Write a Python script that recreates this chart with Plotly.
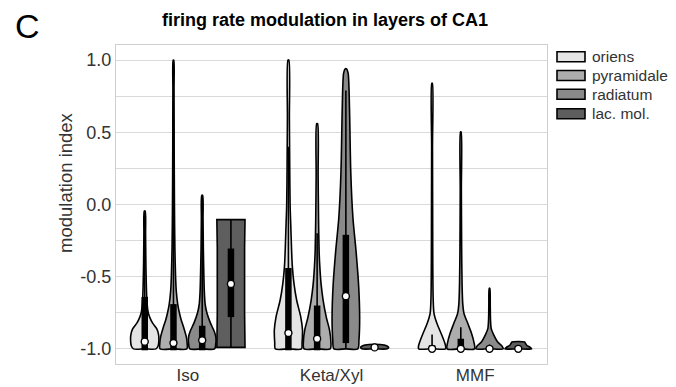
import plotly.graph_objects as go

# ---------------- data ----------------
groups = ["Iso", "Keta/Xyl", "MMF"]
layers = ["oriens", "pyramidale", "radiatum", "lac. mol."]
layer_colors = ["#e4e4e4", "#adadad", "#8a8a8a", "#5e5e5e"]

# violin profiles: y (bottom -> top) and relative half-width (0..1)
iso_oriens_y = [-1.0, -0.98, -0.95, -0.9, -0.86, -0.82, -0.78, -0.75, -0.7, -0.64, -0.55, -0.4, -0.2, -0.045]
iso_oriens_w = [0.8, 0.95, 1.0, 0.98, 0.85, 0.55, 0.35, 0.25, 0.18, 0.14, 0.11, 0.08, 0.06, 0.03]
iso_pyramidale_y = [-1.0, -0.96, -0.92, -0.85, -0.8, -0.75, -0.69, -0.6, -0.5, -0.3, 0.0, 0.4, 0.8, 1.0]
iso_pyramidale_w = [0.95, 0.97, 0.92, 0.72, 0.55, 0.42, 0.3, 0.2, 0.15, 0.1, 0.07, 0.05, 0.04, 0.02]
iso_radiatum_y = [-1.0, -0.96, -0.92, -0.88, -0.82, -0.75, -0.69, -0.6, -0.5, -0.3, -0.1, 0.064]
iso_radiatum_w = [0.88, 0.97, 0.97, 0.86, 0.58, 0.33, 0.21, 0.15, 0.12, 0.08, 0.06, 0.03]
iso_lacmol_y = [-0.99, -0.75, -0.55, -0.3, -0.105]
iso_lacmol_w = [1.0, 0.97, 0.95, 0.97, 1.0]

keta_oriens_y = [-1.0, -0.96, -0.87, -0.78, -0.66, -0.55, -0.43, -0.3, -0.15, 0.0, 0.3, 0.6, 1.0]
keta_oriens_w = [0.93, 0.97, 1.0, 0.88, 0.58, 0.4, 0.28, 0.22, 0.17, 0.12, 0.09, 0.07, 0.03]
keta_pyramidale_y = [-1.0, -0.94, -0.87, -0.78, -0.66, -0.55, -0.43, -0.32, -0.1, 0.2, 0.56]
keta_pyramidale_w = [0.93, 0.97, 0.88, 0.65, 0.42, 0.28, 0.19, 0.14, 0.1, 0.07, 0.03]
keta_radiatum_y = [-1.0, -0.94, -0.78, -0.55, -0.32, -0.09, 0.22, 0.61, 0.84, 0.91, 0.94]
keta_radiatum_w = [0.85, 0.93, 0.98, 0.9, 0.72, 0.5, 0.35, 0.27, 0.21, 0.16, 0.05]
keta_lacmol_y = [-1.0, -0.99, -0.978, -0.97]
keta_lacmol_w = [0.9, 1.0, 0.85, 0.4]

mmf_oriens_y = [-1.0, -0.985, -0.953, -0.895, -0.825, -0.756, -0.66, -0.4, 0.0, 0.4, 0.84]
mmf_oriens_w = [0.95, 0.97, 0.88, 0.65, 0.35, 0.14, 0.08, 0.05, 0.04, 0.03, 0.02]
mmf_pyramidale_y = [-1.0, -0.953, -0.895, -0.825, -0.756, -0.69, -0.55, -0.3, 0.1, 0.503]
mmf_pyramidale_w = [0.97, 0.93, 0.77, 0.5, 0.23, 0.14, 0.09, 0.06, 0.04, 0.02]
mmf_radiatum_y = [-1.0, -0.98, -0.953, -0.9, -0.86, -0.8, -0.7, -0.58]
mmf_radiatum_w = [0.97, 0.88, 0.58, 0.28, 0.12, 0.07, 0.05, 0.02]
mmf_lacmol_y = [-1.0, -0.99, -0.975, -0.96, -0.953]
mmf_lacmol_w = [0.95, 0.85, 0.6, 0.5, 0.45]

# box statistics per group, ordered like `layers`
iso_median = [-0.95, -0.96, -0.94, -0.55]
iso_q1 = [-1.01, -1.01, -1.01, -0.78]
iso_q3 = [-0.64, -0.69, -0.84, -0.305]
iso_whisk_lo = [-1.0, -1.0, -1.0, -0.99]
iso_whisk_hi = [-0.045, 0.6, 0.064, -0.105]

keta_median = [-0.89, -0.93, -0.635, -0.99]
keta_q1 = [-1.01, -1.01, -0.96, -1.0]
keta_q3 = [-0.44, -0.70, -0.21, -0.98]
keta_whisk_lo = [-1.0, -1.0, -1.0, -1.0]
keta_whisk_hi = [0.4, -0.2, 0.79, -0.98]

mmf_median = [-1.0, -1.0, -1.0, -1.0]
mmf_q1 = [-1.0, -1.0, -1.0, -1.0]
mmf_q3 = [-0.975, -0.93, -0.985, -0.99]
mmf_whisk_lo = [-1.0, -1.0, -1.0, -1.0]
mmf_whisk_hi = [-0.9, -0.85, -0.97, -0.99]

y_ticks = [-1.0, -0.5, 0.0, 0.5, 1.0]
y_grid = [-1.0, -0.75, -0.5, -0.25, 0.0, 0.25, 0.5, 0.75, 1.0]

# ---------------- build ----------------
profiles = [
    [(iso_oriens_y, iso_oriens_w), (iso_pyramidale_y, iso_pyramidale_w),
     (iso_radiatum_y, iso_radiatum_w), (iso_lacmol_y, iso_lacmol_w)],
    [(keta_oriens_y, keta_oriens_w), (keta_pyramidale_y, keta_pyramidale_w),
     (keta_radiatum_y, keta_radiatum_w), (keta_lacmol_y, keta_lacmol_w)],
    [(mmf_oriens_y, mmf_oriens_w), (mmf_pyramidale_y, mmf_pyramidale_w),
     (mmf_radiatum_y, mmf_radiatum_w), (mmf_lacmol_y, mmf_lacmol_w)],
]
stats = [
    (iso_median, iso_q1, iso_q3, iso_whisk_lo, iso_whisk_hi),
    (keta_median, keta_q1, keta_q3, keta_whisk_lo, keta_whisk_hi),
    (mmf_median, mmf_q1, mmf_q3, mmf_whisk_lo, mmf_whisk_hi),
]

GROUP_WIDTH = 0.8
n_layers = len(layers)
slot = GROUP_WIDTH / n_layers
half_max = slot / 2 * 0.98

fig = go.Figure()
for gi, g in enumerate(groups):
    med, q1, q3, wlo, whi = stats[gi]
    for li in range(n_layers):
        cx = gi - GROUP_WIDTH / 2 + slot * (li + 0.5)
        ys, ws = profiles[gi][li]
        xs_r = [cx + w * half_max for w in ws]
        xs_l = [cx - w * half_max for w in ws]
        px = [cx] + xs_r + xs_l[::-1] + [cx]
        py = [ys[0]] + list(ys) + list(ys[::-1]) + [ys[0]]
        boxy = len(ys) <= 5 and min(ws) > 0.9  # rectangular violin: keep sharp corners
        fig.add_trace(go.Scatter(
            x=px, y=py, mode="lines", fill="toself",
            fillcolor=layer_colors[li],
            line=dict(color="black", width=1.6,
                      shape="linear" if boxy else "spline", smoothing=0.8),
            hoverinfo="skip", showlegend=False))
        # whisker
        fig.add_trace(go.Scatter(
            x=[cx, cx], y=[wlo[li], whi[li]], mode="lines",
            line=dict(color="black", width=1.6), hoverinfo="skip", showlegend=False))
        # IQR bar
        fig.add_trace(go.Scatter(
            x=[cx, cx], y=[q1[li], q3[li]], mode="lines",
            line=dict(color="black", width=6.5), hoverinfo="skip", showlegend=False))
        # median
        fig.add_trace(go.Scatter(
            x=[cx], y=[med[li]], mode="markers",
            marker=dict(color="white", size=7, line=dict(color="black", width=1.4)),
            hoverinfo="skip", showlegend=False))

FONT = "Liberation Sans, Arial, sans-serif"

fig.update_layout(
    width=676, height=387,
    margin=dict(l=116, r=129, t=45, b=23, autoexpand=False),
    paper_bgcolor="white", plot_bgcolor="white",
    showlegend=False,
    font=dict(family=FONT, color="#333333"),
    xaxis=dict(range=[-0.5, 2.5], tickvals=list(range(len(groups))), ticktext=groups,
               showgrid=False, zeroline=False, showline=True, mirror=True,
               linecolor="#cfcfcf", linewidth=1, ticks="", automargin=False,
               ticklabelstandoff=-4,
               tickfont=dict(size=17, color="#333333")),
    yaxis=dict(range=[-1.105, 1.105], tickvals=y_grid,
               ticktext=[("%.1f" % v) if v in y_ticks else "" for v in y_grid],
               showgrid=True, gridcolor="#d9d9d9", gridwidth=1,
               zeroline=False, showline=True, mirror=True, automargin=False,
               linecolor="#cfcfcf", linewidth=1, ticks="",
               tickfont=dict(size=18, color="#333333")),
)

# title, panel letter, y label
fig.add_annotation(text="<b>firing rate modulation in layers of CA1</b>", xref="paper", yref="paper",
                   x=(325 - 116) / 431, y=(364 - 20) / 319, xanchor="center", yanchor="middle",
                   showarrow=False, font=dict(family=FONT, size=18, color="black"))
fig.add_annotation(text="C", xref="paper", yref="paper",
                   x=(27 - 116) / 431, y=(364 - 26) / 319, xanchor="center", yanchor="middle",
                   showarrow=False, font=dict(family=FONT, size=34, color="black"))
fig.add_annotation(text="modulation index", xref="paper", yref="paper", textangle=-90,
                   x=(65 - 116) / 431, y=(364 - 183) / 319, xanchor="center", yanchor="middle",
                   showarrow=False, font=dict(family=FONT, size=18.5, color="#333333"))

# custom legend
leg_centers_px = [56.7, 75.5, 94.3, 113.8]
for li, name in enumerate(layers):
    cy = leg_centers_px[li]
    fig.add_shape(type="rect", xref="paper", yref="paper",
                  x0=(557 - 116) / 431, x1=(585 - 116) / 431,
                  y0=(364 - (cy + 5)) / 319, y1=(364 - (cy - 5)) / 319,
                  fillcolor=layer_colors[li], line=dict(color="black", width=1.6))
    fig.add_annotation(text=name, xref="paper", yref="paper",
                       x=(590 - 116) / 431, y=(364 - cy) / 319, xanchor="left", yanchor="middle",
                       showarrow=False, font=dict(family=FONT, size=15.5, color="#333333"))

fig.write_html("out.html")
